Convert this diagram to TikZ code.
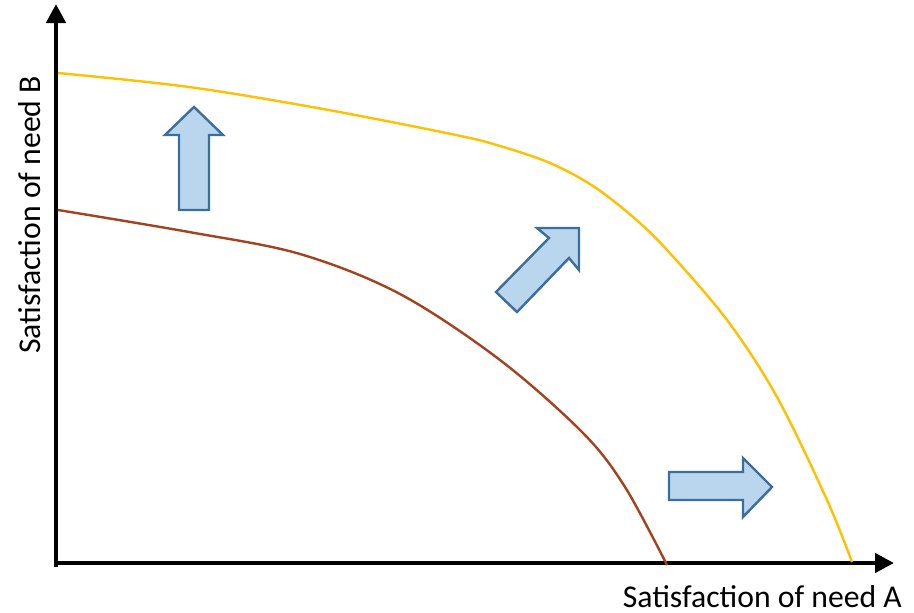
\documentclass[tikz,border=0pt]{standalone}
\usepackage{fontspec}
\setmainfont{Carlito}
\usetikzlibrary{arrows.meta}
\definecolor{goldline}{HTML}{FFC000}
\definecolor{rustline}{HTML}{A3421F}
\definecolor{arrfill}{HTML}{BAD6EE}
\definecolor{arrdraw}{HTML}{3A6E9C}
\tikzset{
  axisline/.style={line width=4.5pt,-{Triangle[length=19pt,width=19pt]}},
  fatarrow/.style={fill=arrfill,draw=arrdraw,line width=2.4pt,line join=miter},
  curveline/.style={line width=2.4pt},
  lbl/.style={font=\fontsize{31.7}{38}\selectfont,inner sep=0pt}
}
\begin{document}
\begin{tikzpicture}[x=1pt,y=-1pt]
\useasboundingbox (0,0) rectangle (914,613);
\coordinate (O) at (56,565);
\coordinate (Ytip) at (56,4);
\coordinate (Xtip) at (894,563);
\draw[axisline] (56,567.2) -- (Ytip);
\draw[axisline] (53.8,563) -- (Xtip);
% curves
\draw[curveline,goldline] plot[smooth,tension=0.55] coordinates {(58,73) (189,87) (323,109) (456,135) (500,146) (550,163) (593,186) (633,217) (667,250) (727,320) (777,397) (827,500) (852,562)};
\draw[curveline,rustline] plot[smooth,tension=0.55] coordinates {(58,210) (189,232) (300,254) (400,294) (500,360) (583,433) (625,487) (667,565)};
% fat arrows
\draw[fatarrow] (179,210) -- (179,135) -- (165,135) -- (194,107) -- (223,135) -- (209,135) -- (209,210) -- cycle;
\draw[fatarrow] (496,292) -- (549,238) -- (537,228) -- (579,228) -- (579,270) -- (569,258) -- (517,312) -- cycle;
\draw[fatarrow] (669,472) -- (743,472) -- (743,458) -- (772,487) -- (743,517) -- (743,500) -- (669,500) -- cycle;
% labels
\node[lbl,anchor=base east] (xl) at (902,607) {Satisfaction of need A};
\node[lbl,anchor=base,rotate=90] (yl) at (41,215) {Satisfaction of need B};
\end{tikzpicture}
\end{document}
